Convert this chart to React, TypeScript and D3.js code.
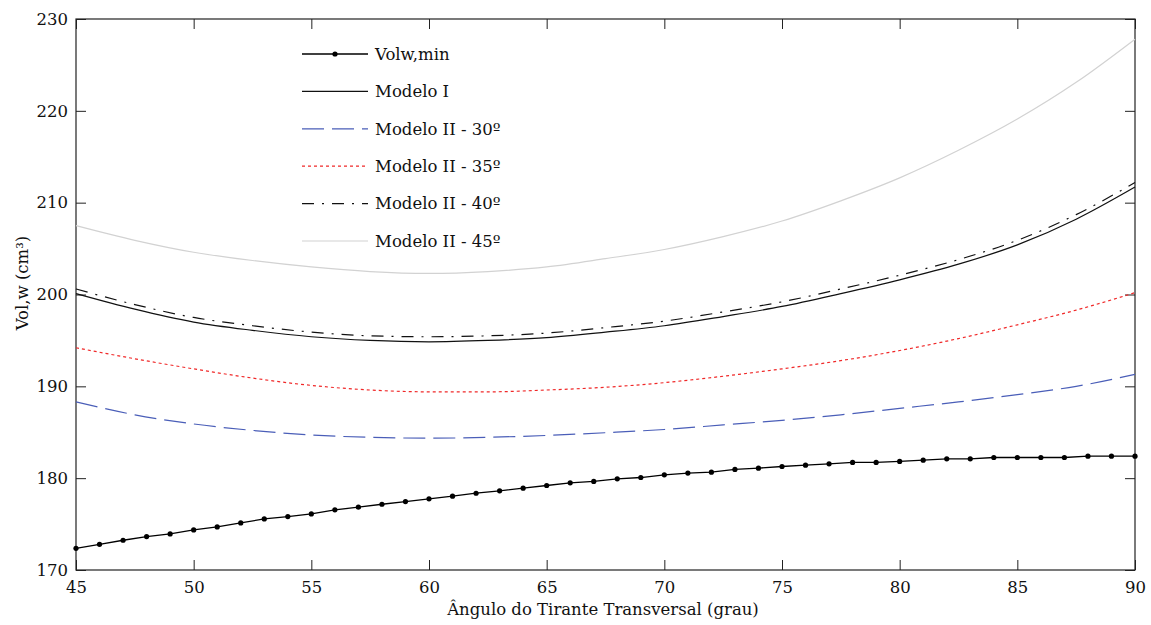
import React, { useEffect, useRef } from "react";
import * as d3 from "d3";

// angle of the transverse tie (grau)
const anglesMin = d3.range(45, 91, 1);
const volwMin = [
  172.36, 172.8, 173.24, 173.64, 173.93, 174.36, 174.69, 175.13, 175.56, 175.82,
  176.11, 176.55, 176.84, 177.16, 177.45, 177.75, 178.04, 178.36, 178.62, 178.91,
  179.2, 179.49, 179.64, 179.93, 180.07, 180.36, 180.55, 180.65, 180.95, 181.09,
  181.27, 181.42, 181.56, 181.71, 181.71, 181.82, 181.96, 182.11, 182.11, 182.25,
  182.25, 182.25, 182.25, 182.4, 182.4, 182.4,
];

const anglesModel = [
  45, 47.5, 50, 52.5, 55, 57.5, 60, 62.5, 65, 67.5, 70, 72.5, 75, 77.5, 80, 82.5, 85, 87.5, 90,
];
const modeloI = [
  200.1, 198.4, 197.0, 196.1, 195.4, 195.0, 194.85, 195.0, 195.3, 195.9, 196.6, 197.6,
  198.7, 200.1, 201.6, 203.3, 205.4, 208.2, 211.7,
];
const modeloII30 = [
  188.3, 186.9, 185.9, 185.2, 184.7, 184.45, 184.35, 184.45, 184.65, 184.95, 185.3, 185.8,
  186.3, 186.9, 187.6, 188.3, 189.1, 190.0, 191.3,
];
const modeloII35 = [
  194.2, 193.0, 191.9, 190.9, 190.1, 189.6, 189.4, 189.4, 189.6, 189.9, 190.4, 191.1,
  191.9, 192.8, 193.9, 195.2, 196.7, 198.3, 200.2,
];
const modeloII40 = [
  200.6, 198.9, 197.5, 196.6, 195.9, 195.5, 195.4, 195.5, 195.8, 196.4, 197.1, 198.1,
  199.2, 200.6, 202.1, 203.8, 205.9, 208.7, 212.2,
];
const modeloII45 = [
  207.5, 205.9, 204.6, 203.7, 203.0, 202.5, 202.3, 202.5, 203.0, 203.9, 204.9, 206.3,
  208.0, 210.2, 212.7, 215.7, 219.1, 223.1, 227.8,
];

const xTicks = [45, 50, 55, 60, 65, 70, 75, 80, 85, 90];
const yTicks = [170, 180, 190, 200, 210, 220, 230];

const series = [
  { name: "Volw,min", x: anglesMin, y: volwMin, color: "#000", dash: null, width: 1.3, marker: true },
  { name: "Modelo I", x: anglesModel, y: modeloI, color: "#111", dash: null, width: 1.2, marker: false },
  { name: "Modelo II - 30º", x: anglesModel, y: modeloII30, color: "#4a5eb8", dash: "22,8", width: 1.2, marker: false },
  { name: "Modelo II - 35º", x: anglesModel, y: modeloII35, color: "#f02828", dash: "3,3", width: 1.2, marker: false },
  { name: "Modelo II - 40º", x: anglesModel, y: modeloII40, color: "#111", dash: "12,8,2,8", width: 1.2, marker: false },
  { name: "Modelo II - 45º", x: anglesModel, y: modeloII45, color: "#d2d2d2", dash: null, width: 1.2, marker: false },
];

const W = 1151;
const H = 625;
const margin = { top: 19, right: 16, bottom: 55, left: 76 };
const FONT = "DejaVu Serif";
const FS = 16.5;

export default function App() {
  const ref = useRef<SVGSVGElement>(null);

  useEffect(() => {
    const svg = d3.select(ref.current);
    svg.selectAll("*").remove();

    const x = d3.scaleLinear().domain([45, 90]).range([margin.left, W - margin.right]);
    const y = d3.scaleLinear().domain([170, 230]).range([H - margin.bottom, margin.top]);

    const axisStyle = (g) => {
      g.select(".domain").remove();
      g.selectAll("line").attr("stroke", "#222");
      g.selectAll("text")
        .attr("font-family", FONT)
        .attr("font-size", FS)
        .attr("fill", "#111");
    };

    svg
      .append("g")
      .attr("transform", `translate(0,${H - margin.bottom})`)
      .call(d3.axisBottom(x).tickValues(xTicks).tickSizeInner(-10).tickSizeOuter(0).tickPadding(11))
      .call(axisStyle);
    svg
      .append("g")
      .attr("transform", `translate(0,${margin.top})`)
      .call(d3.axisTop(x).tickValues(xTicks).tickSizeInner(-10).tickSizeOuter(0).tickFormat(() => ""))
      .call(axisStyle);
    svg
      .append("g")
      .attr("transform", `translate(${margin.left},0)`)
      .call(d3.axisLeft(y).tickValues(yTicks).tickSizeInner(-10).tickSizeOuter(0).tickPadding(8))
      .call(axisStyle);
    svg
      .append("g")
      .attr("transform", `translate(${W - margin.right},0)`)
      .call(d3.axisRight(y).tickValues(yTicks).tickSizeInner(-10).tickSizeOuter(0).tickFormat(() => ""))
      .call(axisStyle);

    // frame
    svg
      .append("rect")
      .attr("x", margin.left)
      .attr("y", margin.top)
      .attr("width", W - margin.left - margin.right)
      .attr("height", H - margin.top - margin.bottom)
      .attr("fill", "none")
      .attr("stroke", "#222")
      .attr("stroke-width", 1.2);

    const plot = svg.append("g");
    // draw light curves first so black ones sit on top
    const order = [5, 2, 3, 4, 1, 0];
    order.forEach((i) => {
      const s = series[i];
      const pts = s.x.map((d, j) => [d, s.y[j]]);
      const line = d3
        .line()
        .x((d) => x(d[0]))
        .y((d) => y(d[1]))
        .curve(s.marker ? d3.curveLinear : d3.curveMonotoneX);
      plot
        .append("path")
        .datum(pts)
        .attr("d", line)
        .attr("fill", "none")
        .attr("stroke", s.color)
        .attr("stroke-width", s.width)
        .attr("stroke-dasharray", s.dash);
      if (s.marker) {
        plot
          .append("g")
          .selectAll("circle")
          .data(pts)
          .enter()
          .append("circle")
          .attr("cx", (d) => x(d[0]))
          .attr("cy", (d) => y(d[1]))
          .attr("r", 2.6)
          .attr("fill", "#000");
      }
    });

    // legend
    const legend = svg.append("g").attr("transform", "translate(302,54)");
    series.forEach((s, i) => {
      const row = legend.append("g").attr("transform", `translate(0,${i * 37.4})`);
      row
        .append("line")
        .attr("x1", 0)
        .attr("x2", 66)
        .attr("stroke", s.color)
        .attr("stroke-width", s.width)
        .attr("stroke-dasharray", s.dash);
      if (s.marker) row.append("circle").attr("cx", 33).attr("r", 2.6).attr("fill", "#000");
      row
        .append("text")
        .attr("x", 73)
        .attr("dy", "0.35em")
        .attr("font-family", FONT)
        .attr("font-size", FS)
        .attr("fill", "#111")
        .text(s.name);
    });

    // axis titles
    svg
      .append("text")
      .attr("x", 603)
      .attr("y", 615)
      .attr("text-anchor", "middle")
      .attr("font-family", FONT)
      .attr("font-size", FS)
      .attr("fill", "#111")
      .text("Ângulo do Tirante Transversal (grau)");
    svg
      .append("text")
      .attr("transform", `translate(28,283) rotate(-90)`)
      .attr("text-anchor", "middle")
      .attr("font-family", FONT)
      .attr("font-size", FS)
      .attr("fill", "#111")
      .text("Vol,w (cm³)");
  }, []);

  return (
    <svg
      ref={ref}
      width={W}
      height={H}
      style={{ position: "absolute", left: 0, top: 0, background: "#fff" }}
    ></svg>
  );
}
